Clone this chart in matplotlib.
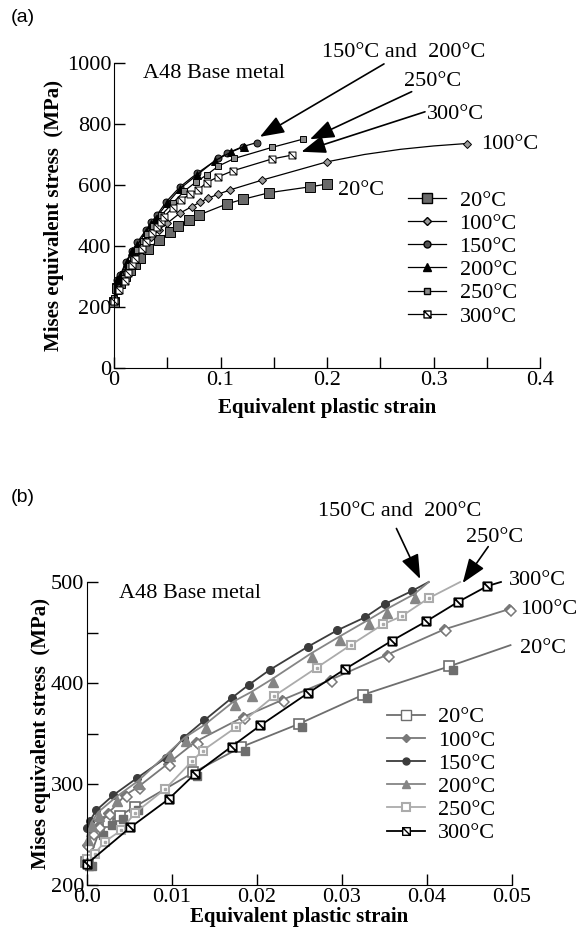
import numpy as np
import matplotlib.pyplot as plt
import matplotlib.transforms as mtransforms
from matplotlib.path import Path
from matplotlib.lines import Line2D

plt.rcParams['font.family'] = ['Liberation Serif', 'DejaVu Serif']

labels = ['20°C', '100°C', '150°C', '200°C', '250°C', '300°C']

# ---- panel (a): full strain range ----
a_x20 = [0, 0.003, 0.006, 0.01, 0.015, 0.02, 0.024, 0.032, 0.042, 0.053, 0.06, 0.07, 0.08, 0.106, 0.121, 0.146, 0.184, 0.2]
a_y20 = [215, 262, 279, 300, 321, 342, 360, 389, 420, 447, 467, 485, 502, 538, 553, 575, 594, 603]
a_x100 = [0, 0.006, 0.013, 0.023, 0.035, 0.042, 0.05, 0.062, 0.073, 0.081, 0.088, 0.098, 0.109, 0.139, 0.2, 0.235, 0.269, 0.3, 0.331]
a_y100 = [230, 297, 342, 383, 428, 453, 475, 508, 529, 544, 556, 570, 584, 616, 676, 700, 717, 728, 736]
a_x150 = [0, 0.003, 0.006, 0.011, 0.017, 0.022, 0.03, 0.035, 0.04, 0.049, 0.062, 0.078, 0.098, 0.106, 0.121, 0.134]
a_y150 = [225, 289, 306, 346, 385, 413, 452, 478, 500, 545, 594, 638, 687, 704, 726, 739]
a_x200 = [0, 0.003, 0.006, 0.012, 0.017, 0.022, 0.03, 0.035, 0.039, 0.05, 0.062, 0.078, 0.095, 0.11, 0.122]
a_y200 = [222, 287, 303, 346, 382, 404, 446, 473, 490, 540, 588, 633, 680, 708, 726]
a_x250 = [0, 0.004, 0.009, 0.014, 0.018, 0.022, 0.027, 0.031, 0.037, 0.044, 0.055, 0.066, 0.077, 0.087, 0.098, 0.113, 0.148, 0.177]
a_y250 = [228, 254, 295, 333, 356, 387, 415, 438, 466, 500, 540, 580, 610, 633, 662, 687, 723, 750]
a_x300 = [0, 0.005, 0.01, 0.013, 0.017, 0.02, 0.026, 0.03, 0.036, 0.04, 0.044, 0.047, 0.055, 0.063, 0.071, 0.079, 0.087, 0.098, 0.112, 0.148, 0.167]
a_y300 = [221, 257, 285, 310, 337, 358, 390, 414, 442, 461, 480, 496, 525, 550, 570, 584, 608, 627, 647, 685, 698]

# ---- panel (b): small strain range ----
b_x20 = [0, 0.0003, 0.0016, 0.0027, 0.004, 0.0058, 0.0127, 0.0183, 0.0251, 0.0327, 0.0428, 0.05]
b_y20 = [221, 221, 251, 261, 267, 276, 310, 335, 358, 387, 415, 436]
b_x100 = [0, 0.0006, 0.0013, 0.0025, 0.0045, 0.006, 0.0095, 0.0128, 0.0183, 0.0229, 0.0286, 0.0353, 0.042, 0.0496]
b_y100 = [240, 251, 258, 271, 289, 297, 320, 342, 366, 383, 403, 428, 453, 473]
b_x150 = [0, 0.0003, 0.0011, 0.0031, 0.0059, 0.0093, 0.0114, 0.0138, 0.017, 0.019, 0.0215, 0.026, 0.0294, 0.0327, 0.035, 0.0382, 0.0402]
b_y150 = [256, 263, 274, 289, 306, 326, 346, 363, 385, 398, 413, 436, 452, 465, 478, 491, 500]
b_x200 = [0, 0.0005, 0.0013, 0.0034, 0.006, 0.0096, 0.0115, 0.0139, 0.0173, 0.0193, 0.0218, 0.0263, 0.0297, 0.033, 0.0352, 0.0385, 0.0402]
b_y200 = [248, 262, 272, 287, 303, 331, 346, 359, 382, 391, 404, 429, 446, 462, 473, 488, 500]
b_x250 = [0, 0.0009, 0.0021, 0.004, 0.0056, 0.0092, 0.0124, 0.0136, 0.0175, 0.022, 0.027, 0.0311, 0.0348, 0.037, 0.0402, 0.0439]
b_y250 = [226, 231, 243, 254, 271, 295, 323, 333, 356, 387, 415, 438, 458, 466, 484, 500]
b_x300 = [0, 0.0051, 0.0096, 0.0127, 0.017, 0.0204, 0.026, 0.0304, 0.0359, 0.0399, 0.0436, 0.0471, 0.0487]
b_y300 = [221, 257, 285, 310, 337, 358, 390, 414, 442, 461, 480, 496, 500]

# square with one diagonal (300°C marker)
sq_diag = Path([(-1, -1), (1, -1), (1, 1), (-1, 1), (-1, -1), (-1, 1), (1, -1)],
               [Path.MOVETO, Path.LINETO, Path.LINETO, Path.LINETO, Path.CLOSEPOLY,
                Path.MOVETO, Path.LINETO])

fig = plt.figure(figsize=(5.77, 9.38), dpi=100)
ax1 = fig.add_axes([114 / 577, 1 - 368 / 938, 426 / 577, 305 / 938])
ax2 = fig.add_axes([87 / 577, 1 - 885 / 938, 425 / 577, 303 / 938])


def style_axes(ax):
    ax.spines['top'].set_visible(False)
    ax.spines['right'].set_visible(False)
    ax.tick_params(direction='in', length=8, width=1, labelsize=16, pad=2)
    ax.set_xlabel('Equivalent plastic strain', fontsize=15, fontweight='bold', labelpad=0)
    ax.set_ylabel('Mises equivalent stress  (MPa)', fontsize=15, fontweight='bold')


# ---------- (a) ----------
kw = dict(color='k', lw=0.9, mec='k', mew=0.7, clip_on=False)
ax1.plot(a_x20, a_y20, marker='s', ms=7, mfc='#6a6a6a', **kw)
ax1.plot(a_x100, a_y100, marker='D', ms=4.5, mfc='#9a9a9a', markevery=list(range(15)) + [18], **kw)
ax1.plot(a_x150, a_y150, marker='o', ms=5, mfc='#505050', **kw)
ax1.plot(a_x200, a_y200, marker='^', ms=5.5, mfc='k', **kw)
ax1.plot(a_x250, a_y250, marker='s', ms=5, mfc='#8a8a8a', **kw)
ax1.plot(a_x300, a_y300, marker=sq_diag, ms=5, mfc='white', **kw)

ax1.set_xlim(0, 0.4)
ax1.set_ylim(0, 1000)
ax1.set_xticks(np.arange(0, 0.401, 0.05))
ax1.set_xticklabels(['0', '', '0.1', '', '0.2', '', '0.3', '', '0.4'])
ax1.set_yticks(np.arange(0, 1001, 200))
style_axes(ax1)
ax1.yaxis.labelpad = 2
ax1.xaxis.labelpad = 6

ax1.text(0.027, 967, 'A48 Base metal', fontsize=16, va='center')
ax1.text(0.195, 1036, '150°C and  200°C', fontsize=16, va='center', clip_on=False)
ax1.text(0.299, 939, '250°C', fontsize=16, va='center', ha='center')
ax1.text(0.321, 830, '300°C', fontsize=16, va='center', ha='center')
ax1.text(0.345, 733, '100°C', fontsize=16, va='center')
ax1.text(0.210, 582, '20°C', fontsize=16, va='center')

aprops = dict(arrowstyle='-|>,head_length=0.75,head_width=0.28', color='k', lw=1.2,
              mutation_scale=20, shrinkA=0, shrinkB=0)
ax1.annotate('', xy=(0.137, 758), xytext=(0.2535, 997), arrowprops=aprops, annotation_clip=False)
ax1.annotate('', xy=(0.184, 750), xytext=(0.2795, 906), arrowprops=aprops, annotation_clip=False)
ax1.annotate('', xy=(0.176, 709), xytext=(0.292, 840), arrowprops=aprops, annotation_clip=False)

handles_a = [
    Line2D([], [], color='k', lw=0.9, marker='s', ms=7, mfc='#6a6a6a', mec='k'),
    Line2D([], [], color='k', lw=0.9, marker='D', ms=4.5, mfc='#9a9a9a', mec='k'),
    Line2D([], [], color='k', lw=0.9, marker='o', ms=5, mfc='#505050', mec='k'),
    Line2D([], [], color='k', lw=0.9, marker='^', ms=5.5, mfc='k', mec='k'),
    Line2D([], [], color='k', lw=0.9, marker='s', ms=5, mfc='#8a8a8a', mec='k'),
    Line2D([], [], color='k', lw=0.9, marker=sq_diag, ms=5, mfc='white', mec='k'),
]
ax1.legend(handles_a, labels, loc='upper left', bbox_to_anchor=(0.665, 0.62), frameon=False,
           fontsize=16, handlelength=1.7, handletextpad=0.6, labelspacing=0.12, borderpad=0)

# ---------- (b) ----------
c20, c100, c150, c200, c250, c300 = '#6e6e6e', '#787878', '#3c3c3c', '#858585', '#ababab', '#000000'
off_dr = mtransforms.offset_copy(ax2.transData, fig=fig, x=2.0, y=-2.0, units='dots')
off_ul = mtransforms.offset_copy(ax2.transData, fig=fig, x=-1.5, y=1.5, units='dots')
off_d = mtransforms.offset_copy(ax2.transData, fig=fig, x=1.0, y=-3.5, units='dots')

ax2.plot(b_x20, b_y20, color=c20, lw=1.3, marker='s', ms=6.5, mfc='white', mec=c20, mew=1.2,
         markevery=list(range(len(b_x20) - 1)), clip_on=False, transform=off_ul)
ax2.plot(b_x20[:-1], b_y20[:-1], ls='none', marker='s', ms=6, mfc=c20, mec=c20,
         clip_on=False, transform=off_dr)

ax2.plot(b_x100, b_y100, color=c100, lw=1.3, marker='D', ms=5, mfc=c100, mec=c100, clip_on=False)
ax2.plot(b_x100, b_y100, ls='none', marker='D', ms=5.5, mfc='white', mec=c100, mew=1.1,
         clip_on=False, transform=off_dr)

ax2.plot(b_x150, b_y150, color=c150, lw=1.3, marker='o', ms=5.5, mfc=c150, mec=c150,
         markevery=list(range(len(b_x150) - 1)), clip_on=False)
ax2.plot(b_x200, b_y200, color=c200, lw=1.3, clip_on=False)
ax2.plot(b_x200[:-1], b_y200[:-1], ls='none', marker='^', ms=7, mfc=c200, mec=c200,
         clip_on=False, transform=off_d)

ax2.plot(b_x250, b_y250, color=c250, lw=1.3, marker='s', ms=6, mfc='white', mec=c250, mew=1.5,
         markevery=list(range(len(b_x250) - 1)), clip_on=False)
ax2.plot(b_x250[:-1], b_y250[:-1], ls='none', marker='s', ms=1.8, mfc=c250, mec=c250, clip_on=False)

ax2.plot(b_x300, b_y300, color=c300, lw=1.3, marker=sq_diag, ms=6, mfc='white', mec=c300, mew=1.3,
         markevery=list(range(len(b_x300) - 1)), clip_on=False)

ax2.set_xlim(0, 0.05)
ax2.set_ylim(200, 500)
ax2.set_xticks(np.arange(0, 0.0501, 0.01))
ax2.set_xticklabels(['0.0', '0.01', '0.02', '0.03', '0.04', '0.05'])
ax2.set_yticks(np.arange(200, 501, 50))
ax2.set_yticklabels(['200', '', '300', '', '400', '', '500'])
style_axes(ax2)
ax2.yaxis.labelpad = 0

ax2.text(0.0038, 489, 'A48 Base metal', fontsize=16, va='center')
ax2.text(0.0272, 570, '150°C and  200°C', fontsize=16, va='center', clip_on=False)
ax2.text(0.0446, 544, '250°C', fontsize=16, va='center')
ax2.text(0.0496, 501, '300°C', fontsize=16, va='center')
ax2.text(0.0509, 473, '100°C', fontsize=16, va='center')
ax2.text(0.0509, 434, '20°C', fontsize=16, va='center')

ax2.annotate('', xy=(0.0392, 503), xytext=(0.0364, 553), arrowprops=aprops, annotation_clip=False)
ax2.annotate('', xy=(0.0442, 499), xytext=(0.0472, 535), arrowprops=aprops, annotation_clip=False)

handles_b = [
    Line2D([], [], color=c20, lw=1.3, marker='s', ms=6.5, mfc='white', mec=c20),
    Line2D([], [], color=c100, lw=1.3, marker='D', ms=4.5, mfc=c100, mec=c100),
    Line2D([], [], color=c150, lw=1.3, marker='o', ms=5, mfc=c150, mec=c150),
    Line2D([], [], color=c200, lw=1.3, marker='^', ms=6, mfc=c200, mec=c200),
    Line2D([], [], color=c250, lw=1.3, marker='s', ms=5.5, mfc='white', mec=c250, mew=1.5),
    Line2D([], [], color=c300, lw=1.3, marker=sq_diag, ms=5.5, mfc='white', mec=c300),
]
ax2.legend(handles_b, labels, loc='upper left', bbox_to_anchor=(0.68, 0.625), frameon=False,
           fontsize=16, handlelength=1.7, handletextpad=0.6, labelspacing=0.12, borderpad=0)

fig.text(0.018, 0.981, '(a)', family='Liberation Sans', fontsize=14, va='center')
fig.text(0.018, 0.470, '(b)', family='Liberation Sans', fontsize=14, va='center')

fig.savefig('out.png', dpi=100)
